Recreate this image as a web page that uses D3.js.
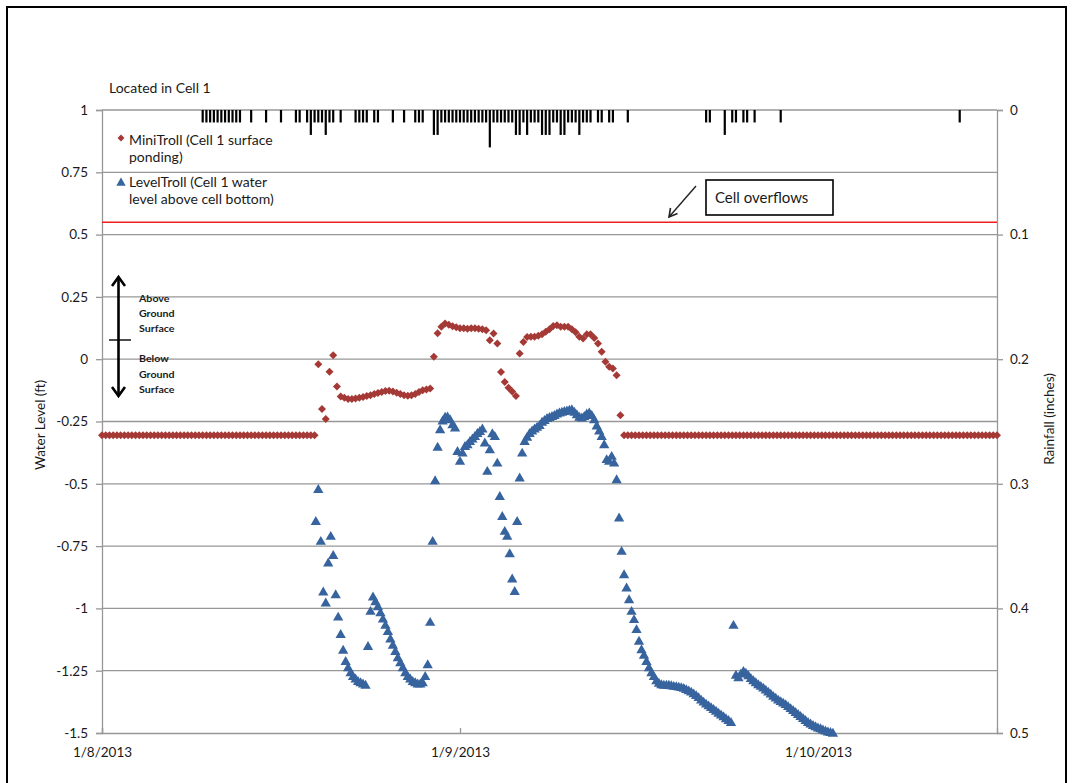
<!DOCTYPE html>
<html><head><meta charset="utf-8">
<script src="https://cdn.jsdelivr.net/npm/d3@7"></script>
<style>
body{margin:0;background:#fff}
svg{display:block}
text{font-family:Lato,"Open Sans",sans-serif;fill:#1a1a1a}
</style>
</head><body>
<svg id="chart" width="1074" height="783"></svg>
<script>
// ---------------- DATA ----------------
const seriesOrigin = new Date(2013, 0, 8, 0, 0);
// MiniTroll (Cell 1 surface ponding), ft, every 15 minutes from 1/8/2013 00:00
const miniTrollStepMin = 15;
const miniTroll = [
 -0.305,-0.305,-0.305,-0.305,-0.305,-0.305,-0.305,-0.305,-0.305,-0.305,
 -0.305,-0.305,-0.305,-0.305,-0.305,-0.305,-0.305,-0.305,-0.305,-0.305,
 -0.305,-0.305,-0.305,-0.305,-0.305,-0.305,-0.305,-0.305,-0.305,-0.305,
 -0.305,-0.305,-0.305,-0.305,-0.305,-0.305,-0.305,-0.305,-0.305,-0.305,
 -0.305,-0.305,-0.305,-0.305,-0.305,-0.305,-0.305,-0.305,-0.305,-0.305,
 -0.305,-0.305,-0.305,-0.305,-0.305,-0.305,-0.305,-0.305,
 -0.02,-0.2,-0.24,-0.05,0.016,-0.11,-0.15,-0.155,-0.16,-0.16,
 -0.158,-0.155,-0.152,-0.148,-0.145,-0.14,-0.136,-0.132,-0.128,-0.127,
 -0.13,-0.135,-0.14,-0.145,-0.147,-0.145,-0.14,-0.132,-0.125,-0.122,
 -0.118,0.01,0.104,0.13,0.143,0.138,0.132,0.128,0.124,0.124,
 0.122,0.124,0.124,0.122,0.12,0.116,0.076,0.103,0.063,-0.051,
 -0.091,-0.115,-0.13,-0.148,0.023,0.069,0.089,0.09,0.09,0.094,
 0.1,0.11,0.12,0.133,0.136,0.13,0.13,0.13,0.12,0.108,
 0.09,0.083,0.1,0.1,0.085,0.063,0.03,-0.01,-0.03,-0.037,
 -0.064,-0.225,
 -0.305,-0.305,-0.305,-0.305,-0.305,-0.305,-0.305,-0.305,-0.305,-0.305,
 -0.305,-0.305,-0.305,-0.305,-0.305,-0.305,-0.305,-0.305,-0.305,-0.305,
 -0.305,-0.305,-0.305,-0.305,-0.305,-0.305,-0.305,-0.305,-0.305,-0.305,
 -0.305,-0.305,-0.305,-0.305,-0.305,-0.305,-0.305,-0.305,-0.305,-0.305,
 -0.305,-0.305,-0.305,-0.305,-0.305,-0.305,-0.305,-0.305,-0.305,-0.305,
 -0.305,-0.305,-0.305,-0.305,-0.305,-0.305,-0.305,-0.305,-0.305,-0.305,
 -0.305,-0.305,-0.305,-0.305,-0.305,-0.305,-0.305,-0.305,-0.305,-0.305,
 -0.305,-0.305,-0.305,-0.305,-0.305,-0.305,-0.305,-0.305,-0.305,-0.305,
 -0.305,-0.305,-0.305,-0.305,-0.305,-0.305,-0.305,-0.305,-0.305,-0.305,
 -0.305,-0.305,-0.305,-0.305,-0.305,-0.305,-0.305,-0.305,-0.305,-0.305,
 -0.305
];
// LevelTroll (Cell 1 water level above cell bottom), ft, every 10 minutes from 1/8/2013 14:20
const levelTrollStartMin = 860;
const levelTrollStepMin = 10;
const levelTroll = [
 -0.653,-0.525,-0.733,-0.936,-0.98,-0.82,-0.713,-0.79,-0.947,-1.037,
 -1.107,-1.17,-1.215,-1.24,-1.26,-1.275,-1.285,-1.295,-1.3,-1.305,
 -1.31,-1.155,-1.014,-0.956,-0.975,-0.995,-1.02,-1.045,-1.07,-1.095,
 -1.125,-1.15,-1.175,-1.2,-1.22,-1.24,-1.26,-1.275,-1.285,-1.295,
 -1.3,-1.305,-1.305,-1.3,-1.275,-1.228,
 -1.058,-0.733,-0.49,-0.355,-0.285,-0.25,-0.235,-0.234,-0.245,-0.265,
 -0.278,-0.372,-0.412,-0.379,-0.352,-0.345,-0.332,-0.322,-0.312,-0.3,
 -0.292,-0.282,-0.338,-0.452,-0.365,-0.301,-0.312,-0.419,-0.553,-0.633,
 -0.693,-0.713,-0.783,-0.884,-0.934,-0.653,-0.479,-0.379,-0.332,-0.315,
 -0.3,-0.29,-0.282,-0.275,-0.268,-0.255,-0.248,-0.24,-0.236,-0.232,
 -0.228,-0.222,-0.218,-0.215,-0.212,-0.21,-0.207,-0.205,-0.215,-0.225,
 -0.235,-0.238,-0.232,-0.222,-0.218,-0.228,-0.245,-0.27,-0.29,-0.312,
 -0.345,-0.405,-0.412,-0.392,-0.419,-0.486,-0.639,-0.773,-0.867,-0.92,
 -0.967,-1.014,-1.047,-1.087,-1.134,-1.168,-1.19,-1.215,-1.24,-1.26,
 -1.275,-1.292,-1.302,-1.308,-1.31,-1.31,-1.31,-1.312,-1.315,-1.316,
 -1.318,-1.32,-1.323,-1.328,-1.333,-1.338,-1.345,-1.352,-1.36,-1.37,
 -1.378,-1.386,-1.393,-1.4,-1.408,-1.415,-1.423,-1.43,-1.437,-1.445,
 -1.452,-1.46,-1.07,-1.27,-1.28,-1.265,-1.255,-1.262,-1.272,-1.283,
 -1.292,-1.3,-1.308,-1.315,-1.322,-1.33,-1.338,-1.346,-1.355,-1.362,
 -1.37,-1.376,-1.382,-1.388,-1.396,-1.404,-1.412,-1.42,-1.428,-1.436,
 -1.444,-1.452,-1.46,-1.466,-1.472,-1.477,-1.482,-1.485,-1.49,-1.494,
 -1.498,-1.5,-1.503
];
// Rainfall (inches) per 15 minutes, time in hours after 1/8/2013 00:00
const rainHours = [
 6.75,7,7.25,7.5,7.75,8,8.25,8.5,8.75,9,9.25,
 10,11,12,13,13.25,13.75,
 14,14.25,14.5,14.75,15,15.25,
 15.5,16,
 17,17.25,17.5,17.75,
 18.25,18.5,19.5,20.25,
 21,21.25,21.5,
 22.25,22.5,22.75,
 23,23.25,23.5,23.75,24,24.25,24.5,24.75,25,25.25,
 25.5,25.75,26,
 26.25,26.5,26.75,27,
 27.25,27.5,27.75,28,28.25,28.5,28.75,
 29,29.25,29.5,29.75,30,30.25,30.5,30.75,31,31.25,31.5,31.75,32,32.25,32.5,32.75,
 33.25,33.5,34,34.25,
 35.25,
 40.5,40.75,
 41.75,
 42.25,42.5,43,43.25,43.75,
 45.5,
 57.5
];
const rainInches = [
 0.01,0.01,0.01,0.01,0.01,0.01,0.01,0.01,0.01,0.01,0.01,
 0.01,0.01,0.01,0.01,0.01,0.01,
 0.02,0.01,0.01,0.01,0.02,0.01,
 0.01,0.01,
 0.01,0.01,0.01,0.01,
 0.01,0.01,0.01,0.01,
 0.01,0.01,0.01,
 0.02,0.02,0.01,
 0.01,0.01,0.01,0.01,0.01,0.01,0.01,0.01,0.01,0.01,
 0.01,0.01,0.03,
 0.01,0.01,0.01,0.01,
 0.01,0.01,0.02,0.02,0.01,0.02,0.01,
 0.01,0.01,0.02,0.02,0.02,0.01,0.01,0.02,0.02,0.01,0.01,0.01,0.02,0.01,0.01,0.01,
 0.01,0.01,0.01,0.01,
 0.01,
 0.01,0.01,
 0.02,
 0.01,0.01,0.01,0.01,0.01,
 0.01,
 0.01
];
const overflowLevel = 0.55;
const levelTicks = [1,0.75,0.5,0.25,0,-0.25,-0.5,-0.75,-1,-1.25,-1.5];
const levelTickLabels = ["1","0.75","0.5","0.25","0","-0.25","-0.5","-0.75","-1","-1.25","-1.5"];
const rainTicks = [0,0.1,0.2,0.3,0.4,0.5];
const rainTickLabels = ["0","0.1","0.2","0.3","0.4","0.5"];
const dateTicks = [new Date(2013,0,8), new Date(2013,0,9), new Date(2013,0,10)];
const dateTickLabels = ["1/8/2013","1/9/2013","1/10/2013"];

// ---------------- CHART ----------------
const L = 102, R = 997, T = 110, B = 733;
const svg = d3.select("#chart");
const red = "#a53936", blue = "#37649e", grid = "#979797";

const x = d3.scaleTime().domain([new Date(2013,0,8), new Date(2013,0,10,12)]).range([L, R]);
const y = d3.scaleLinear().domain([-1.5, 1]).range([B, T]);
const yRain = d3.scaleLinear().domain([0, 0.5]).range([T, B]);
const addMin = m => new Date(seriesOrigin.getTime() + m * 60000);

// outer frame
svg.append("rect").attr("x", 7).attr("y", 7).attr("width", 1059).attr("height", 820)
  .attr("fill", "none").attr("stroke", "#000").attr("stroke-width", 2);

// gridlines + left axis
const gLeft = svg.append("g").attr("transform", `translate(${L},0)`)
  .call(d3.axisLeft(y).tickValues(levelTicks).tickSize(6).tickPadding(8)
    .tickFormat((d, i) => levelTickLabels[i]));
gLeft.select(".domain").attr("stroke", grid).attr("stroke-width", 1.3);
gLeft.selectAll(".tick line").attr("stroke", grid).attr("stroke-width", 1.3);
gLeft.selectAll(".tick text").style("font-size", "13.5px").attr("fill", "#1a1a1a");

svg.append("g").selectAll("line").data(levelTicks.filter(d => d !== -1.5)).join("line")
  .attr("x1", L).attr("x2", R).attr("y1", d => y(d)).attr("y2", d => y(d))
  .attr("stroke", grid).attr("stroke-width", 1.3);

// right axis (rainfall, reversed)
const gRight = svg.append("g").attr("transform", `translate(${R},0)`)
  .call(d3.axisRight(yRain).tickValues(rainTicks).tickSize(6).tickPadding(7)
    .tickFormat((d, i) => rainTickLabels[i]));
gRight.select(".domain").attr("stroke", grid).attr("stroke-width", 1.3);
gRight.selectAll(".tick line").attr("stroke", grid).attr("stroke-width", 1.3);
gRight.selectAll(".tick text").style("font-size", "13.5px").attr("fill", "#1a1a1a");

// bottom axis
const gBottom = svg.append("g").attr("transform", `translate(0,${B})`)
  .call(d3.axisBottom(x).tickValues(dateTicks).tickSize(-5).tickPadding(14)
    .tickFormat((d, i) => dateTickLabels[i]));
gBottom.select(".domain").attr("stroke", grid).attr("stroke-width", 1.3);
gBottom.selectAll(".tick line").attr("stroke", grid).attr("stroke-width", 1.3);
gBottom.selectAll(".tick text").style("font-size", "13.5px").attr("fill", "#1a1a1a");

// rainfall bars hanging from the top
svg.append("g").selectAll("rect").data(rainHours).join("rect")
  .attr("x", d => x(addMin(d * 60)) - 1.1)
  .attr("y", yRain(0))
  .attr("width", 2.2)
  .attr("height", (d, i) => yRain(rainInches[i]) - yRain(0))
  .attr("fill", "#000");

// overflow line
svg.append("line").attr("x1", L).attr("x2", R)
  .attr("y1", y(overflowLevel)).attr("y2", y(overflowLevel))
  .attr("stroke", "#f01e1e").attr("stroke-width", 1.5);

// MiniTroll diamonds
const diamond = d3.symbol().type(d3.symbolSquare).size(32);
svg.append("g").selectAll("path").data(miniTroll).join("path")
  .attr("d", diamond)
  .attr("transform", (d, i) => `translate(${x(addMin(i * miniTrollStepMin))},${y(d)}) rotate(45)`)
  .attr("fill", red);

// LevelTroll triangles
const tri = d3.symbol().type(d3.symbolTriangle).size(46);
svg.append("g").selectAll("path").data(levelTroll).join("path")
  .attr("d", tri)
  .attr("transform", (d, i) => `translate(${x(addMin(levelTrollStartMin + i * levelTrollStepMin))},${y(d)})`)
  .attr("fill", blue);

// titles
svg.append("text").attr("x", 109).attr("y", 93).style("font-size", "14px").text("Located in Cell 1");
svg.append("text").attr("transform", "translate(40,425) rotate(-90)")
  .attr("text-anchor", "middle").attr("dominant-baseline", "central")
  .style("font-size", "13.5px").text("Water Level (ft)");
svg.append("text").attr("transform", "translate(1049,419) rotate(-90)")
  .attr("text-anchor", "middle").attr("dominant-baseline", "central")
  .style("font-size", "13.5px").text("Rainfall (inches)");

// legend
svg.append("path").attr("d", d3.symbol().type(d3.symbolSquare).size(24))
  .attr("transform", "translate(121,138) rotate(45)").attr("fill", red);
svg.append("path").attr("d", d3.symbol().type(d3.symbolTriangle).size(38))
  .attr("transform", "translate(121,183)").attr("fill", blue);
const legendLines = [
  ["MiniTroll (Cell 1 surface", 145], ["ponding)", 162],
  ["LevelTroll (Cell 1 water", 187], ["level above cell bottom)", 204]
];
svg.append("g").selectAll("text").data(legendLines).join("text")
  .attr("x", 129).attr("y", d => d[1]).style("font-size", "14px").text(d => d[0]);

// Cell overflows callout
svg.append("rect").attr("x", 706).attr("y", 180).attr("width", 127).attr("height", 35)
  .attr("fill", "#fff").attr("stroke", "#000").attr("stroke-width", 1.6);
svg.append("text").attr("x", 715).attr("y", 203).style("font-size", "15px").text("Cell overflows");
svg.append("line").attr("x1", 696).attr("y1", 186).attr("x2", 669).attr("y2", 217)
  .attr("stroke", "#222").attr("stroke-width", 1.4);
svg.append("path").attr("d", "M670.5,208 L669,217 L677.5,213.5")
  .attr("fill", "none").attr("stroke", "#222").attr("stroke-width", 1.6);

// above/below ground double arrow
const ann = svg.append("g").attr("stroke", "#000").attr("fill", "none");
ann.append("line").attr("x1", 118.5).attr("x2", 118.5).attr("y1", 277).attr("y2", 396).attr("stroke-width", 2.6);
ann.append("path").attr("d", "M112,286 L118.5,277 L125,286").attr("stroke-width", 2.6);
ann.append("path").attr("d", "M112,387 L118.5,396 L125,387").attr("stroke-width", 2.6);
ann.append("line").attr("x1", 109).attr("x2", 131).attr("y1", 340).attr("y2", 340).attr("stroke-width", 1.4);
const annText = [["Above", 302], ["Ground", 317], ["Surface", 332], ["Below", 362], ["Ground", 378], ["Surface", 393]];
svg.append("g").selectAll("text").data(annText).join("text")
  .attr("transform", d => `translate(139,${d[1]}) scale(1.25,1)`)
  .style("font-size", "8.5px").style("font-weight", "bold").attr("fill", "#333").text(d => d[0]);
</script>
</body></html>
